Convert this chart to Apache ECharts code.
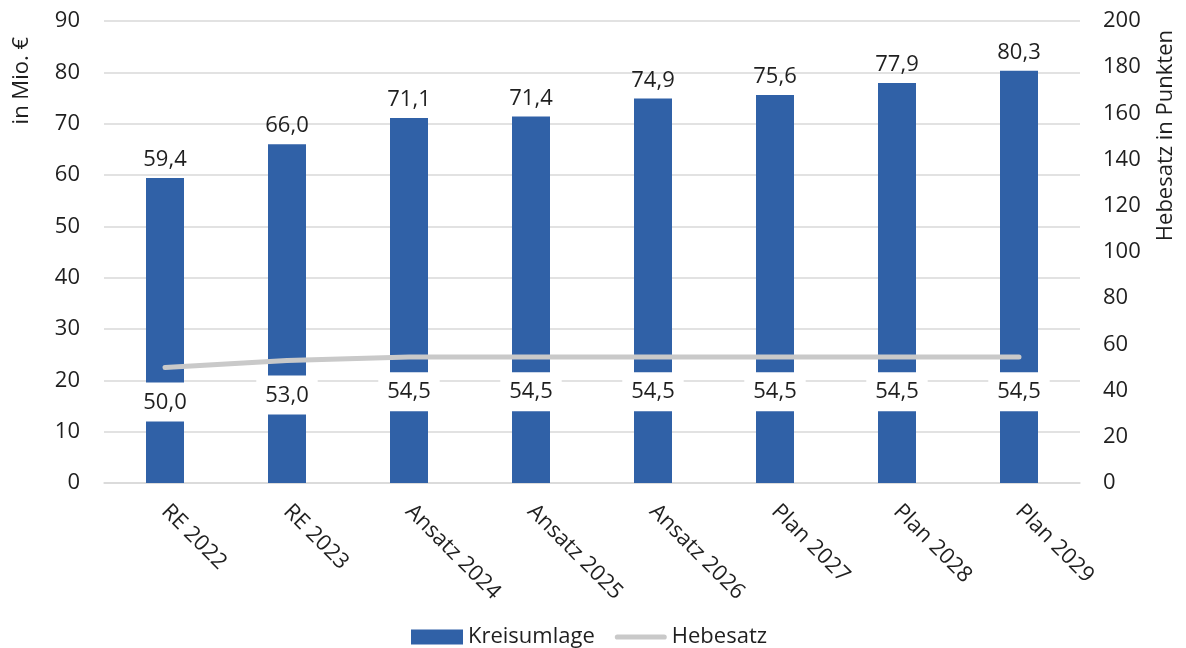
<!DOCTYPE html>
<html>
<head>
<meta charset="utf-8">
<script src="https://cdn.jsdelivr.net/npm/echarts@6/dist/echarts.min.js"></script>
<style>
html,body{margin:0;padding:0;background:#fff;}
#c{width:1186px;height:648px;}
</style>
</head>
<body>
<div id="c"></div>
<script>
const categories = ['RE 2022','RE 2023','Ansatz 2024','Ansatz 2025','Ansatz 2026','Plan 2027','Plan 2028','Plan 2029'];
const kreisumlage = [59.4, 66.0, 71.1, 71.4, 74.9, 75.6, 77.9, 80.3];
const hebesatz = [50.0, 53.0, 54.5, 54.5, 54.5, 54.5, 54.5, 54.5];
const leftTicks = {min: 0, max: 90, interval: 10};
const rightTicks = {min: 0, max: 200, interval: 20};

const FONT = '"Open Sans", "Noto Sans", sans-serif';
const FS = 22;
const TXT = '#1f1f1f';
const fmt = v => v.toFixed(1).replace('.', ',');

const chart = echarts.init(document.getElementById('c'));
chart.setOption({
  animation: false,
  textStyle: {fontFamily: FONT, color: TXT},
  grid: {left: 104, right: 106, top: 21, bottom: 165, containLabel: false},
  legend: {
    left: 406, top: 621,
    itemWidth: 52, itemHeight: 15, itemGap: 20,
    textStyle: {fontFamily: FONT, fontSize: FS, color: TXT},
    data: [
      {name: 'Kreisumlage', icon: 'rect'},
      {name: 'Hebesatz', icon: 'path://M2.5,0 H47.5 A2.5,2.5 0 0 1 47.5,5 H2.5 A2.5,2.5 0 0 1 2.5,0 Z'}
    ]
  },
  graphic: [
    {type: 'text', left: 11, top: 37, rotation: Math.PI / 2,
      style: {text: 'in Mio. €', font: FS + 'px ' + FONT, fill: TXT}},
    {type: 'text', left: 1155, top: 30, rotation: Math.PI / 2,
      style: {text: 'Hebesatz in Punkten', font: FS + 'px ' + FONT, fill: TXT}}
  ],
  xAxis: {
    type: 'category',
    data: categories,
    axisLine: {lineStyle: {color: '#d9d9d9', width: 1.5}},
    axisTick: {show: false},
    axisLabel: {rotate: -45, margin: 25, fontSize: FS, color: TXT, fontFamily: FONT, interval: 0}
  },
  yAxis: [
    {
      type: 'value', min: leftTicks.min, max: leftTicks.max, interval: leftTicks.interval,
      axisLine: {show: false}, axisTick: {show: false},
      axisLabel: {margin: 24, fontSize: FS, color: TXT, fontFamily: FONT},
      splitLine: {lineStyle: {color: '#d9d9d9', width: 1.5}}
    },
    {
      type: 'value', min: rightTicks.min, max: rightTicks.max, interval: rightTicks.interval,
      position: 'right',
      axisLine: {show: false}, axisTick: {show: false},
      axisLabel: {margin: 23, fontSize: FS, color: TXT, fontFamily: FONT},
      splitLine: {show: false}
    }
  ],
  series: [
    {
      name: 'Kreisumlage', type: 'bar', data: kreisumlage, yAxisIndex: 0,
      barWidth: 38,
      itemStyle: {color: '#3061a7'},
      label: {show: true, position: 'top', distance: 7, fontSize: FS, color: TXT, fontFamily: FONT,
        formatter: p => fmt(p.value)}
    },
    {
      name: 'Hebesatz', type: 'line', data: hebesatz, yAxisIndex: 1, z: 5,
      symbol: 'none',
      lineStyle: {color: '#c9c9c9', width: 5, cap: 'round'},
      itemStyle: {color: '#c9c9c9'}
    },
    {
      name: 'HebesatzLabels', type: 'scatter', data: hebesatz, yAxisIndex: 1, z: 6,
      symbol: 'circle', symbolSize: 0.1,
      itemStyle: {color: 'rgba(0,0,0,0)', opacity: 1},
      silent: true,
      label: {show: true, position: 'bottom', distance: 15, fontSize: FS, color: TXT, fontFamily: FONT,
        backgroundColor: '#ffffff', padding: [9, 9, 8, 9],
        formatter: p => fmt(p.value)}
    }
  ]
});
</script>
</body>
</html>
